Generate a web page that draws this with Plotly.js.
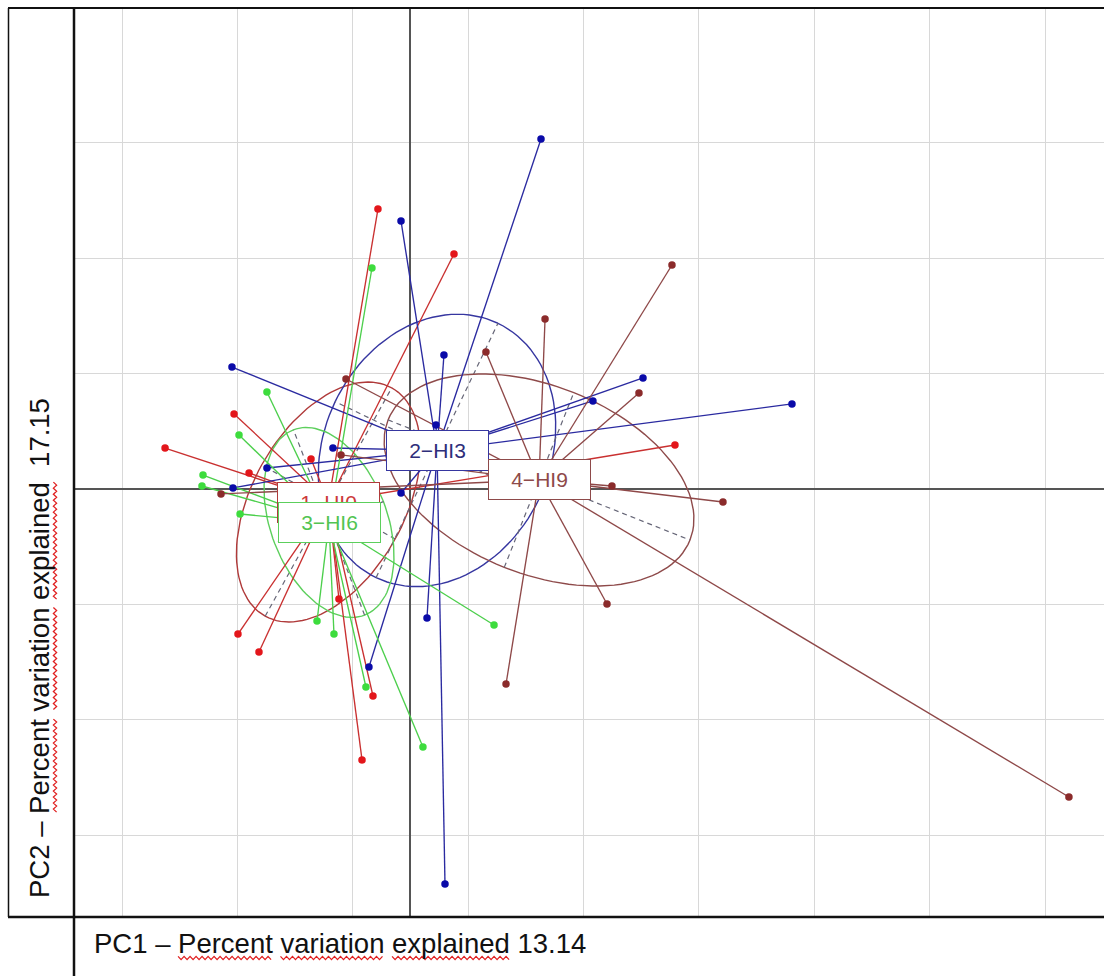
<!DOCTYPE html>
<html><head><meta charset="utf-8">
<script src="https://cdn.plot.ly/plotly-3.0.1.min.js"></script>
<style>html,body{margin:0;padding:0;background:#fff}#chart{width:1104px;height:976px}</style>
</head><body><div id="chart"></div>
<script>
// ---- data (PCA scores, one grid spacing = 1 unit) ----
const groupNames = ['1\u2212HI0', '2\u2212HI3', '3\u2212HI6', '4\u2212HI9'];

const g1X = [-0.282, 0.377, -1.529, -2.127, -1.399, -0.862, 2.292, -0.620, -1.495, -1.313, -0.325, -0.420];
const g1Y = [2.426, 2.036, 0.650, 0.355, 0.139, 0.260, 0.381, -0.953, -1.257, -1.412, -1.794, -2.348];

const g2X = [1.131, -0.082, 0.290, 0.221, -1.547, 2.015, 1.581, 3.306, -0.672, -1.244, -1.538, -0.082, 0.143, -0.360, 0.299];
const g2Y = [3.033, 2.322, 1.161, 0.555, 1.057, 0.962, 0.763, 0.737, 0.355, 0.182, 0.009, -0.035, -1.118, -1.542, -3.423];

const g3X = [-0.334, -1.244, -1.486, -1.798, -1.807, -1.477, -0.810, -0.663, -0.386, 0.108, 0.724];
const g3Y = [1.915, 0.841, 0.468, 0.121, 0.026, -0.217, -1.144, -1.257, -1.716, -2.236, -1.179];

const g4X = [2.266, 1.166, 0.654, 1.980, 1.746, 2.708, 1.703, 0.828, 5.706, -1.642, -0.602, -0.559];
const g4Y = [1.941, 1.473, 1.187, 0.832, 0.026, -0.113, -0.997, -1.690, -2.669, -0.043, 0.295, 0.953];

const centerX = [-0.711, 0.230, -0.706, 1.114];
const centerY = [-0.113, 0.334, -0.290, 0.078];

// ellipse: semi-major, semi-minor, angle of major axis (degrees from +x)
const ellMajor = [1.131, 1.222, 0.860, 1.408];
const ellMinor = [0.662, 0.979, 0.505, 0.815];
const ellAngle = [61, 64.4, 111, -21.7];

// grid positions
const xGrid = [-2.5, -1.5, -0.5, 0.5, 1.5, 2.5, 3.5, 4.5, 5.5];
const yGrid = [-3, -2, -1, 0, 1, 2, 3];

const xTitle = 'PC1 \u2013 Percent variation explained 13.14';
const yTitle = 'PC2 \u2013 Percent variation explained  17.15';

// ---- styles ----
const pointColors = ['#e3161b', '#0a0aa8', '#3ddc3d', '#8b2b2b'];
const lineColors = ['#c93030', '#2a2aa0', '#4ccf4c', '#8e4848'];
const ellColors = ['#b03a3a', '#3636a0', '#5ccf5c', '#8e4a4a'];
const labelColors = ['#cc3a3a', '#2e2e7a', '#52c452', '#8e4a4a'];

const gx = [g1X, g2X, g3X, g4X];
const gy = [g1Y, g2Y, g3Y, g4Y];

const traces = [];
// ellipses + dashed axes
for (let g = 0; g < 4; g++) {
  const a = ellMajor[g], b = ellMinor[g], phi = ellAngle[g] * Math.PI / 180;
  const cx = centerX[g], cy = centerY[g];
  const ex = [], ey = [];
  for (let k = 0; k <= 120; k++) {
    const t = 2 * Math.PI * k / 120;
    ex.push(cx + a * Math.cos(t) * Math.cos(phi) - b * Math.sin(t) * Math.sin(phi));
    ey.push(cy + a * Math.cos(t) * Math.sin(phi) + b * Math.sin(t) * Math.cos(phi));
  }
  traces.push({x: ex, y: ey, mode: 'lines', line: {color: ellColors[g], width: 1.4}, hoverinfo: 'skip'});
  const ax = [cx - a * Math.cos(phi), cx + a * Math.cos(phi), null, cx + b * Math.sin(phi), cx - b * Math.sin(phi)];
  const ay = [cy - a * Math.sin(phi), cy + a * Math.sin(phi), null, cy - b * Math.cos(phi), cy + b * Math.cos(phi)];
  traces.push({x: ax, y: ay, mode: 'lines', line: {color: '#666677', width: 1.2, dash: '5px,4px'}, hoverinfo: 'skip'});
}
// star lines
for (let g = 0; g < 4; g++) {
  const sx = [], sy = [];
  for (let i = 0; i < gx[g].length; i++) {
    sx.push(centerX[g], gx[g][i], null);
    sy.push(centerY[g], gy[g][i], null);
  }
  traces.push({x: sx, y: sy, mode: 'lines', line: {color: lineColors[g], width: 1.35}, hoverinfo: 'skip'});
}
// points
for (let g = 0; g < 4; g++) {
  traces.push({x: gx[g], y: gy[g], mode: 'markers', marker: {color: pointColors[g], size: 7.5}, name: groupNames[g]});
}

// ---- frame geometry (pixels) ----
const Lpx = 74, Rpx = 1104, Tpx = 8, Bpx = 917;
const pX = px => (px - Lpx) / (Rpx - Lpx);
const pY = py => (Bpx - py) / (Bpx - Tpx);

const shapes = [
  {type: 'line', xref: 'paper', yref: 'paper', x0: pX(8), x1: pX(1104), y0: pY(8), y1: pY(8), line: {color: '#111', width: 2}},
  {type: 'line', xref: 'paper', yref: 'paper', x0: pX(8), x1: pX(1104), y0: pY(917), y1: pY(917), line: {color: '#111', width: 2.5}},
  {type: 'line', xref: 'paper', yref: 'paper', x0: pX(8.5), x1: pX(8.5), y0: pY(8), y1: pY(917), line: {color: '#111', width: 1.5}},
  {type: 'line', xref: 'paper', yref: 'paper', x0: pX(74), x1: pX(74), y0: pY(8), y1: pY(976), line: {color: '#111', width: 2.5}}
];

// spell-check style wavy underlines under words of the titles
const FS = 27.5;
const FONT = 'Liberation Sans, Arial, sans-serif';
const ctx = document.createElement('canvas').getContext('2d');
ctx.font = FS + 'px "Liberation Sans", Arial, sans-serif';
const tw = s => ctx.measureText(s).width;
function wavyH(x1, x2, y) {
  let d = '', up = true;
  for (let x = x1; x <= x2; x += 3) { d += (d ? ' L ' : 'M ') + pX(x).toFixed(5) + ',' + pY(y + (up ? -1.6 : 1.6)).toFixed(5); up = !up; }
  return d;
}
function wavyV(y1, y2, x) {
  let d = '', up = true;
  for (let y = y1; y <= y2; y += 3) { d += (d ? ' L ' : 'M ') + pX(x + (up ? -1.6 : 1.6)).toFixed(5) + ',' + pY(y).toFixed(5); up = !up; }
  return d;
}
const words = ['Percent', 'variation', 'explained'];
const xTitleLeft = 92, xTitleY = 943;
words.forEach(w => {
  const s = tw(xTitle.slice(0, xTitle.indexOf(w)));
  const e = s + tw(w);
  shapes.push({type: 'path', xref: 'paper', yref: 'paper', path: wavyH(xTitleLeft + s + 2, xTitleLeft + e + 2, xTitleY + 15), line: {color: '#e02020', width: 1.3}});
});
const yTitleCX = 40, yTitleCY = 648;
const yW = tw(yTitle);
words.forEach(w => {
  const s = tw(yTitle.slice(0, yTitle.indexOf(w)));
  const e = s + tw(w);
  const yStart = yTitleCY + yW / 2;
  shapes.push({type: 'path', xref: 'paper', yref: 'paper', path: wavyV(yStart - e, yStart - s, yTitleCX + 15), line: {color: '#e02020', width: 1.3}});
});

const annotations = [];
for (let g = 0; g < 4; g++) {
  annotations.push({x: centerX[g], y: centerY[g], xref: 'x', yref: 'y', text: groupNames[g], showarrow: false,
    font: {family: FONT, size: 21, color: labelColors[g]}, bgcolor: '#ffffff', bordercolor: ellColors[g], borderwidth: 1, borderpad: 0,
    width: 101, height: 39, xanchor: 'center', yanchor: 'middle'});
}
annotations.push({x: pX(xTitleLeft), y: pY(xTitleY), xref: 'paper', yref: 'paper', text: xTitle, showarrow: false,
  xanchor: 'left', yanchor: 'middle', font: {family: FONT, size: FS, color: '#111'}});
annotations.push({x: pX(yTitleCX), y: pY(yTitleCY), xref: 'paper', yref: 'paper', text: yTitle, showarrow: false, textangle: -90,
  xanchor: 'center', yanchor: 'middle', font: {family: FONT, size: FS, color: '#111'}});

const layout = {
  width: 1104, height: 976,
  margin: {l: 74, r: 0, t: 8, b: 59, pad: 0},
  paper_bgcolor: '#ffffff', plot_bgcolor: '#ffffff',
  showlegend: false,
  xaxis: {range: [-2.916, 6.010], tickmode: 'array', tickvals: xGrid, showticklabels: false, ticks: '', showgrid: true, gridcolor: '#d8d8d8', gridwidth: 1,
    zeroline: true, zerolinecolor: '#555555', zerolinewidth: 2, showline: false, fixedrange: true},
  yaxis: {range: [-3.709, 4.168], tickmode: 'array', tickvals: yGrid, showticklabels: false, ticks: '', showgrid: true, gridcolor: '#d8d8d8', gridwidth: 1,
    zeroline: true, zerolinecolor: '#555555', zerolinewidth: 2, showline: false, fixedrange: true},
  shapes: shapes,
  annotations: annotations,
  hovermode: false
};
Plotly.newPlot('chart', traces, layout, {displayModeBar: false, staticPlot: true});
</script>
</body></html>
